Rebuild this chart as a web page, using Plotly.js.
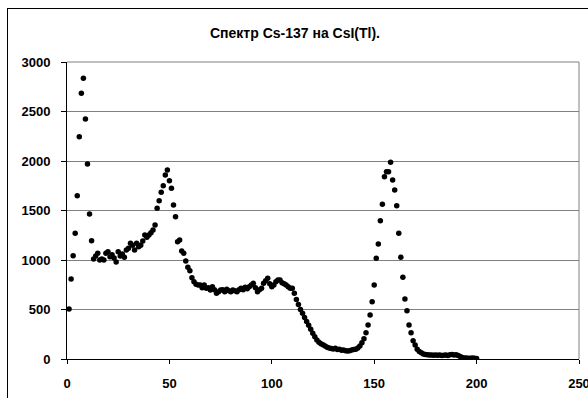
<!DOCTYPE html>
<html>
<head>
<meta charset="utf-8">
<script src="https://cdn.plot.ly/plotly-3.0.1.min.js"></script>
<style>
  html, body { margin: 0; padding: 0; background: #fff; }
  #wrap { position: relative; width: 588px; height: 398px; overflow: hidden; }
  #chart { width: 588px; height: 398px; }
  #frame { position: absolute; left: 7px; top: 8px; width: 700px; height: 500px;
           border-left: 1px solid #000; border-top: 1px solid #000; pointer-events: none; }
</style>
</head>
<body>
<div id="wrap">
  <div id="chart"></div>
  <div id="frame"></div>
</div>
<script>
// Cs-137 spectrum on CsI(Tl): counts per channel (channels 1..200)
const counts = [
  505, 808, 1043, 1270, 1650, 2245, 2684, 2835, 2424, 1970, 1465, 1195,
  1010, 1040, 1067, 1000, 1010, 1000, 1067, 1084, 1034, 1054, 1020, 980,
  1084, 1040, 1060, 1027, 1101, 1118, 1168, 1148, 1101, 1168, 1134, 1150,
  1192, 1253, 1230, 1253, 1276, 1303, 1354, 1522, 1599, 1684, 1751, 1858,
  1910, 1801, 1724, 1556, 1437, 1185, 1202, 1091, 1067, 990, 926, 892,
  821, 781, 754, 747, 747, 720, 747, 714, 720, 697, 731, 700,
  663, 680, 697, 700, 680, 704, 690, 680, 697, 690, 680, 700,
  714, 700, 724, 710, 731, 747, 764, 720, 680, 700, 714, 764,
  791, 815, 760, 731, 747, 781, 798, 798, 771, 760, 747, 731,
  714, 714, 663, 600, 550, 500, 461, 420, 380, 340, 300, 260,
  225, 192, 170, 155, 145, 131, 118, 110, 105, 100, 108, 95,
  98, 88, 91, 84, 81, 84, 90, 95, 98, 110, 131, 165,
  205, 266, 343, 444, 579, 747, 1017, 1162, 1397, 1562, 1842, 1892,
  1892, 1987, 1808, 1707, 1549, 1269, 1027, 825, 606, 488, 343, 266,
  185, 141, 98, 75, 64, 50, 45, 42, 40, 40, 38, 40,
  38, 40, 36, 38, 40, 36, 42, 45, 40, 42, 35, 25,
  15, 10, 10, 8, 8, 10, 8, 5
];
const channels = counts.map((_, i) => i + 1);

const xTicks = [0, 50, 100, 150, 200, 250];
const yTicks = [0, 500, 1000, 1500, 2000, 2500, 3000];
const titleText = 'Спектр Cs-137 на CsI(Tl).';

const font = 'Liberation Sans, Arial, sans-serif';

const trace = {
  type: 'scatter',
  mode: 'markers',
  x: channels,
  y: counts,
  marker: { color: '#000', size: 5.5, line: { width: 0 } },
  hoverinfo: 'skip'
};

const layout = {
  width: 588,
  height: 398,
  margin: { l: 67, r: 9, t: 62, b: 39 },
  paper_bgcolor: 'rgba(0,0,0,0)',
  plot_bgcolor: '#fff',
  showlegend: false,
  title: {
    text: '<b>' + titleText + '</b>',
    font: { family: font, size: 14, color: '#000' },
    x: 295 / 588, xref: 'container', xanchor: 'center',
    y: 1 - 33 / 398, yref: 'container', yanchor: 'middle'
  },
  xaxis: {
    range: [0, 250],
    tickvals: xTicks,
    ticktext: xTicks.map(v => '<b>' + v + '</b>'),
    showgrid: false,
    zeroline: false,
    showline: true, linecolor: '#000', linewidth: 1,
    ticks: 'outside', ticklen: 4, tickcolor: '#000', tickwidth: 1,
    ticklabelstandoff: 8,
    ticklabeloverflow: 'allow',
    tickfont: { family: font, size: 13, color: '#000' },
    fixedrange: true
  },
  yaxis: {
    range: [0, 3000],
    tickvals: yTicks,
    ticktext: yTicks.map(v => '<b>' + v + '</b>'),
    showgrid: true, gridcolor: '#808080', gridwidth: 1,
    zeroline: false,
    showline: true, linecolor: '#000', linewidth: 1,
    ticks: 'outside', ticklen: 5, tickcolor: '#000', tickwidth: 1,
    ticklabelstandoff: 8,
    tickfont: { family: font, size: 13, color: '#000' },
    fixedrange: true
  },
  shapes: [
    { type: 'line', xref: 'paper', yref: 'paper', x0: 0, x1: 1, y0: 1, y1: 1,
      line: { color: '#808080', width: 1 } },
    { type: 'line', xref: 'paper', yref: 'paper', x0: 1, x1: 1, y0: 0, y1: 1,
      line: { color: '#808080', width: 1 } }
  ]
};

Plotly.newPlot('chart', [trace], layout, { displayModeBar: false, staticPlot: true });
</script>
</body>
</html>
